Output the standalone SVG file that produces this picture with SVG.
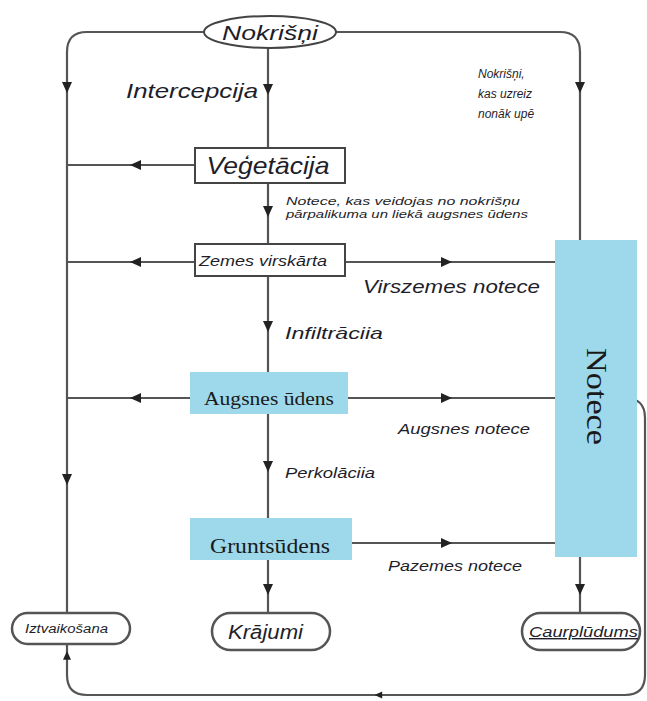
<svg xmlns="http://www.w3.org/2000/svg" width="647" height="701" viewBox="0 0 647 701">
<defs>
<style>
.ln{fill:none;stroke:#555;stroke-width:2.2}
.bx{fill:#fff;stroke:#444;stroke-width:2}
.bl{fill:#9dd9ea;stroke:none}
.rb{fill:#fff;stroke:#555;stroke-width:2.5}
.it{font-family:"Liberation Sans",Arial,sans-serif;font-style:italic;fill:#1e1e2a}
.sf{font-family:"Liberation Serif","Times New Roman",serif;fill:#1a1a1a}
.ar{fill:#222}
</style>
<path id="ad" d="M-5,-6 L5,-6 L0,5 z"/>
</defs>
<g id="connectors">
<path class="ln" d="M205 32 L87 32 Q67 32 67 52 L67 613"/>
<path class="ln" d="M335 32 L560 32 Q580 32 580 52 L580 240"/>
<path class="ln" d="M268 48 L268 148"/>
<path class="ln" d="M195 165 L67 165"/>
<path class="ln" d="M268 183 L268 244"/>
<path class="ln" d="M195 262 L67 262"/>
<path class="ln" d="M345 262 L555 262"/>
<path class="ln" d="M268 276 L268 372"/>
<path class="ln" d="M190 398 L67 398"/>
<path class="ln" d="M348 398 L555 398"/>
<path class="ln" d="M268 414 L268 518"/>
<path class="ln" d="M350 543 L555 543"/>
<path class="ln" d="M268 560 L268 613"/>
<path class="ln" d="M580 557 L580 613"/>
<path class="ln" d="M637 398 L625 398 Q645 398 645 418 L645 675 Q645 695 625 695 L87 695 Q67 695 67 675 L67 643"/>
<use href="#ad" class="ar" transform="translate(67,88)"/>
<use href="#ad" class="ar" transform="translate(580,88)"/>
<use href="#ad" class="ar" transform="translate(268,90)"/>
<use href="#ad" class="ar" transform="translate(67,480)"/>
<use href="#ad" class="ar" transform="translate(268,212)"/>
<use href="#ad" class="ar" transform="translate(268,327)"/>
<use href="#ad" class="ar" transform="translate(268,467)"/>
<use href="#ad" class="ar" transform="translate(268,590)"/>
<use href="#ad" class="ar" transform="translate(580,590)"/>
<use href="#ad" class="ar" transform="translate(135,165) rotate(90)"/>
<use href="#ad" class="ar" transform="translate(135,262) rotate(90)"/>
<use href="#ad" class="ar" transform="translate(135,398) rotate(90)"/>
<use href="#ad" class="ar" transform="translate(447,262) rotate(-90)"/>
<use href="#ad" class="ar" transform="translate(447,398) rotate(-90)"/>
<use href="#ad" class="ar" transform="translate(447,543) rotate(-90)"/>
<use href="#ad" class="ar" transform="translate(378,695) rotate(90) scale(0.7)"/>
<use href="#ad" class="ar" transform="translate(67,655) rotate(180) scale(0.8)"/>
</g>
<g id="labels">
<text class="it" x="258" y="98" font-size="21" text-anchor="end" textLength="132" lengthAdjust="spacingAndGlyphs">Intercepcija</text>
<text class="it" x="478" y="78" font-size="12">Nokrišņi,</text>
<text class="it" x="478" y="98" font-size="12">kas uzreiz</text>
<text class="it" x="478" y="118" font-size="12">nonāk upē</text>
<text class="it" x="286" y="205" font-size="11" textLength="234" lengthAdjust="spacingAndGlyphs">Notece, kas veidojas no nokrišņu</text>
<text class="it" x="286" y="218" font-size="11" textLength="242" lengthAdjust="spacingAndGlyphs">pārpalikuma un liekā augsnes ūdens</text>
<text class="it" x="363" y="293" font-size="19" textLength="177" lengthAdjust="spacingAndGlyphs">Virszemes notece</text>
<text class="it" x="285" y="339" font-size="17" textLength="98" lengthAdjust="spacingAndGlyphs">Infiltrāciia</text>
<text class="it" x="398" y="434" font-size="15" textLength="132" lengthAdjust="spacingAndGlyphs">Augsnes notece</text>
<text class="it" x="285" y="478" font-size="14" textLength="90" lengthAdjust="spacingAndGlyphs">Perkolāciia</text>
<text class="it" x="388" y="571" font-size="15" textLength="134" lengthAdjust="spacingAndGlyphs">Pazemes notece</text>
</g>
<g id="nokrisni">
<ellipse cx="270" cy="32" rx="66" ry="16" fill="#fff" stroke="#444" stroke-width="2"/>
<text class="it" x="270" y="40" font-size="21" text-anchor="middle" textLength="96" lengthAdjust="spacingAndGlyphs">Nokrišņi</text>
</g>
<g id="vegetacija">
<rect class="bx" x="195" y="148" width="150" height="35"/>
<text class="it" x="268" y="174" font-size="24" text-anchor="middle" textLength="123" lengthAdjust="spacingAndGlyphs">Veģetācija</text>
</g>
<g id="zemes">
<rect class="bx" x="195" y="244" width="150" height="32"/>
<text class="it" x="199" y="266" font-size="15" textLength="128" lengthAdjust="spacingAndGlyphs">Zemes virskārta</text>
</g>
<g id="augsnes">
<rect class="bl" x="190" y="372" width="158" height="42"/>
<text class="sf" x="269" y="405" font-size="19" text-anchor="middle" textLength="130" lengthAdjust="spacingAndGlyphs">Augsnes ūdens</text>
</g>
<g id="grunts">
<rect class="bl" x="190" y="518" width="162" height="42"/>
<text class="sf" x="270" y="553" font-size="21" text-anchor="middle" textLength="120" lengthAdjust="spacingAndGlyphs">Gruntsūdens</text>
</g>
<g id="notece">
<rect class="bl" x="555" y="240" width="82" height="317"/>
<text class="sf" transform="translate(587,348) rotate(90)" font-size="29" textLength="97" lengthAdjust="spacingAndGlyphs">Notece</text>
</g>
<g id="iztvaikosana">
<rect class="rb" x="12" y="613" width="118" height="31" rx="15.5"/>
<text class="it" x="25" y="633" font-size="12" textLength="83" lengthAdjust="spacingAndGlyphs">Iztvaikošana</text>
</g>
<g id="krajumi">
<rect class="rb" x="212" y="613" width="118" height="37" rx="18.5"/>
<text class="it" x="228" y="639" font-size="20" textLength="75" lengthAdjust="spacingAndGlyphs">Krājumi</text>
</g>
<g id="caurpludums">
<rect class="rb" x="522" y="613" width="118" height="37" rx="18.5"/>
<text class="it" x="529" y="637" font-size="14" textLength="109" lengthAdjust="spacingAndGlyphs" text-decoration="underline">Caurplūdums</text>
</g>
</svg>
